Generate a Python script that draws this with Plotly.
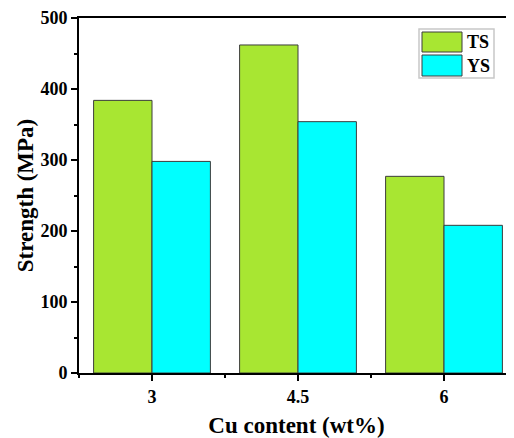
import plotly.graph_objects as go

# ---- data ----
cu_content = [3, 4.5, 6]
tick_labels = ["3", "4.5", "6"]
ts_values = [384, 462, 277]
ys_values = [298, 354, 208]
series_names = ["TS", "YS"]

# ---- style ----
TS_COLOR = "#A8E632"
YS_COLOR = "#00FFFF"
EDGE = "#3C3C3C"
FONT = "Liberation Serif, Times New Roman, serif"

# page body has an 8px margin: figure is offset by (8, 8)
OFF = 8
W, H = 514 - OFF, 438 - OFF
ML, MR, MT, MB = 79 - OFF, 0, 18 - OFF, 65

fig = go.Figure()
fig.add_trace(go.Bar(x=cu_content, y=ts_values, name=series_names[0],
                     marker=dict(color=TS_COLOR, line=dict(color=EDGE, width=1)),
                     showlegend=False))
fig.add_trace(go.Bar(x=cu_content, y=ys_values, name=series_names[1],
                     marker=dict(color=YS_COLOR, line=dict(color=EDGE, width=1)),
                     showlegend=False))

# custom legend (page-pixel positions converted to paper coords)
pw, ph = W - ML - MR, H - MT - MB
def px(x):
    return (x - OFF - ML) / pw
def py(y):
    return 1 - (y - OFF - MT) / ph

shapes = [
    dict(type="rect", xref="paper", yref="paper", x0=px(419), x1=px(494), y0=py(29), y1=py(78),
         line=dict(color="#C8C8C8", width=1.5), fillcolor="white", layer="above"),
    dict(type="rect", xref="paper", yref="paper", x0=px(422), x1=px(462), y0=py(32), y1=py(52),
         line=dict(color=EDGE, width=1), fillcolor=TS_COLOR, layer="above"),
    dict(type="rect", xref="paper", yref="paper", x0=px(422), x1=px(462), y0=py(55), y1=py(76),
         line=dict(color=EDGE, width=1), fillcolor=YS_COLOR, layer="above"),
]
annotations = [
    dict(xref="paper", yref="paper", x=px(465), y=py(42), text="<b>%s</b>" % series_names[0],
         showarrow=False, xanchor="left", yanchor="middle", font=dict(family=FONT, size=18, color="black")),
    dict(xref="paper", yref="paper", x=px(465), y=py(65.5), text="<b>%s</b>" % series_names[1],
         showarrow=False, xanchor="left", yanchor="middle", font=dict(family=FONT, size=18, color="black")),
]

fig.update_layout(
    width=W, height=H,
    margin=dict(l=ML, r=MR, t=MT, b=MB),
    paper_bgcolor="white", plot_bgcolor="white",
    barmode="group", bargap=0.2, bargroupgap=0,
    font=dict(family=FONT, color="black"),
    shapes=shapes, annotations=annotations,
    xaxis=dict(
        range=[2.25, 2.25 + 435 / 146 * 1.5],
        tickvals=cu_content, ticktext=["<b>%s</b>" % t for t in tick_labels],
        tickfont=dict(family=FONT, size=18, color="black"),
        ticks="outside", ticklen=6, tickwidth=2, tickcolor="black",
        minor=dict(ticks="outside", ticklen=3, tickwidth=2, tickcolor="black", tick0=3.75, dtick=1.5),
        showline=True, linewidth=2, linecolor="black", mirror=True,
        showgrid=False, zeroline=False,
        title=dict(text="<b>Cu content (wt%)</b>", font=dict(family=FONT, size=23, color="black"), standoff=14),
    ),
    yaxis=dict(
        range=[0, 500], tick0=0, dtick=100,
        tickfont=dict(family=FONT, size=18, color="black"),
        tickprefix="<b>", ticksuffix="</b>",
        ticks="outside", ticklen=6, tickwidth=2, tickcolor="black",
        minor=dict(ticks="outside", ticklen=3, tickwidth=2, tickcolor="black", dtick=50),
        showline=True, linewidth=2, linecolor="black", mirror=False,
        showgrid=False, zeroline=False,
        title=dict(text="<b>Strength (MPa)</b>", font=dict(family=FONT, size=23, color="black"), standoff=0),
    ),
)

fig.write_html("out.html")
